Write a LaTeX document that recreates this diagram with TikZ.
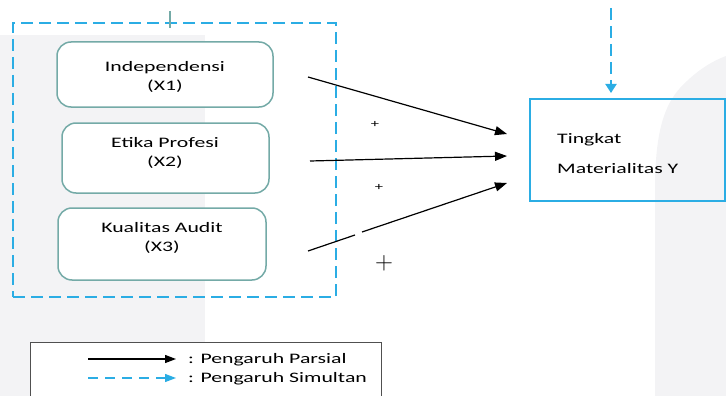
\documentclass[tikz,border=0pt]{standalone}
\usepackage{fontspec}
\setmainfont{Carlito}[FakeStretch=1.5]
\usetikzlibrary{arrows.meta}
\definecolor{skyblue}{HTML}{2BADE4}
\definecolor{tealline}{HTML}{74AAA7}
\definecolor{bggray}{HTML}{F3F3F5}
\definecolor{legendgray}{HTML}{505050}
\begin{document}
\begin{tikzpicture}[x=1pt,y=-1pt,
  varbox/.style={draw=tealline, line width=1.5pt, rounded corners=14pt, fill=white, inner sep=0pt},
  partial/.style={draw=black, line width=1.2pt, -{Triangle[length=12pt,width=9pt]}},
  simul/.style={draw=skyblue, line width=2pt, dash pattern=on 12pt off 6pt, -{Triangle[length=9pt,width=11pt]}},
  lbl/.style={font=\fontsize{14.5}{19}\selectfont, align=center, inner sep=0pt},
  txt/.style={font=\fontsize{14.5}{19}\selectfont, inner sep=0pt}]
\useasboundingbox (0,0) rectangle (726,396);
% faint background shapes
\fill[bggray] (0,35) rectangle (205,396);
\fill[bggray] (655,396) -- (655,190) .. controls (655,130) and (665,105) .. (680,88)
  .. controls (695,72) and (710,62) .. (726,56) -- (726,396) -- cycle;
% group box
\node[draw=skyblue, line width=2pt, dash pattern=on 12pt off 6pt, minimum width=323pt, minimum height=274pt, inner sep=0pt] (grp) at (174.5,160) {};
\coordinate (tk) at (170,11);
\draw[tealline, line width=2pt] (tk) -- ++(0,17);
% variable boxes
\node[varbox, minimum width=216pt, minimum height=65pt] (x1) at (165,74.5) {};
\node[varbox, minimum width=207pt, minimum height=70pt] (x2) at (165.5,158) {};
\node[varbox, minimum width=208pt, minimum height=72pt] (x3) at (162,244) {};
\node[lbl] (t1) at (165,76.5) {Independensi\\(X1)};
\node[lbl] (t2) at (165,152.5) {Etika Profesi\\(X2)};
\node[lbl] (t3) at (162,237.5) {Kualitas Audit\\(X3)};
% dependent box
\node[draw=skyblue, line width=2pt, minimum width=195pt, minimum height=102pt, inner sep=0pt] (y) at (627.5,150) {};
\node[txt, anchor=base west] (ty1) at (557,143) {Tingkat};
\node[txt, anchor=base west] (ty2) at (557,173) {Materialitas Y};
% partial arrows
\coordinate (a1s) at (308,77);  \coordinate (a1e) at (507,134);
\coordinate (a2s) at (310,161); \coordinate (a2e) at (507,156);
\coordinate (a3s) at (308,251); \coordinate (a3g) at (355,235);
\coordinate (a3h) at (362,232); \coordinate (a3e) at (507,183);
\draw[partial] (a1s) -- (a1e);
\draw[partial] (a2s) -- (a2e);
\draw[black, line width=1.2pt] (a3s) -- (a3g);
\draw[partial] (a3h) -- (a3e);
\node[font=\fontsize{11}{12}\selectfont, inner sep=0pt] (p1) at (375,124) {+};
\node[font=\fontsize{11}{12}\selectfont, inner sep=0pt] (p2) at (379,187) {+};
\node[font=\fontsize{25}{28}\selectfont, inner sep=0pt] (p3) at (384,263) {$+$};
% simultaneous arrow
\coordinate (s0) at (611,8);
\coordinate (s1) at (611,93);
\draw[simul] (s0) -- (s1);
% legend
\node[draw=legendgray, line width=1.2pt, fill=white, minimum width=351pt, minimum height=70pt, anchor=north west, inner sep=0pt] (leg) at (30,342) {};
\coordinate (l1s) at (88,359); \coordinate (l1e) at (176,359);
\coordinate (l2s) at (88,378); \coordinate (l2e) at (176,378);
\draw[draw=black, line width=1.3pt, -{Triangle[length=11pt,width=8pt]}] (l1s) -- (l1e);
\draw[draw=skyblue, line width=1.3pt, dash pattern=on 10pt off 7pt, -{Triangle[length=11pt,width=8pt]}] (l2s) -- (l2e);
\node[txt, anchor=base west] (lt1) at (188,363) {: Pengaruh Parsial};
\node[txt, anchor=base west] (lt2) at (188,382) {: Pengaruh Simultan};
\end{tikzpicture}
\end{document}
